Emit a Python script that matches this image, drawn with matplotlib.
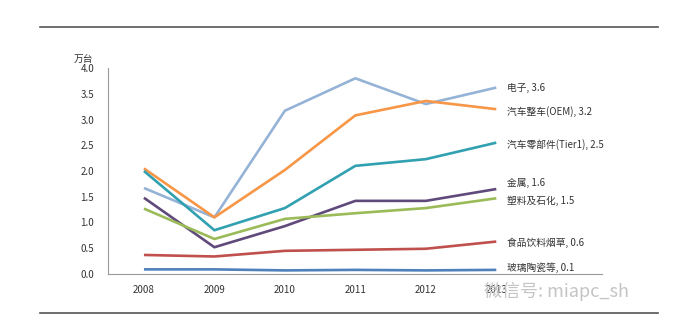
import matplotlib
matplotlib.use("Agg")
import matplotlib.pyplot as plt
from matplotlib.lines import Line2D

plt.rcParams['font.family'] = ['Noto Sans CJK SC', 'DejaVu Sans']

years = [2008, 2009, 2010, 2011, 2012, 2013]
year_labels = ["2008", "2009", "2010", "2011", "2012", "2013"]

names = ["电子", "汽车整车(OEM)", "汽车零部件(Tier1)", "金属", "塑料及石化", "食品饮料烟草", "玻璃陶瓷等"]
end_labels = ["3.6", "3.2", "2.5", "1.6", "1.5", "0.6", "0.1"]

electronics = [1.67, 1.10, 3.17, 3.80, 3.30, 3.62]
auto_oem = [2.05, 1.10, 2.02, 3.08, 3.36, 3.20]
auto_tier1 = [2.00, 0.85, 1.28, 2.10, 2.23, 2.55]
metal = [1.48, 0.52, 0.93, 1.42, 1.42, 1.65]
plastics = [1.27, 0.68, 1.07, 1.18, 1.28, 1.47]
food = [0.37, 0.34, 0.45, 0.47, 0.49, 0.63]
glass = [0.09, 0.09, 0.07, 0.08, 0.07, 0.08]

series = [electronics, auto_oem, auto_tier1, metal, plastics, food, glass]
colors = ["#95B3D7", "#F79646", "#31A0B0", "#604A7B", "#9BBB59", "#C0504D", "#4F81BD"]
# label heights (data units) as placed in the original, nudged apart
label_y = [3.61, 3.15, 2.52, 1.77, 1.42, 0.60, 0.12]

fig = plt.figure(figsize=(6.91, 3.25), dpi=100)
ax = fig.add_axes([108 / 691, 51 / 325, 494 / 691, 206 / 325])

for vals, c in zip(series, colors):
    ax.plot(years, vals, color=c, lw=1.9, solid_capstyle="butt")

for name, lab, ly in zip(names, end_labels, label_y):
    ax.annotate(f"{name}, {lab}", xy=(2013, ly), xytext=(8, 0),
                textcoords="offset points", va="center", ha="left",
                fontsize=7, color="#333333")

ax.set_xlim(2007.49, 2014.5)
ax.set_ylim(0, 4.0)
ax.set_yticks([0, 0.5, 1.0, 1.5, 2.0, 2.5, 3.0, 3.5, 4.0])
ax.set_yticklabels([f"{v:.1f}" for v in ax.get_yticks()])
ax.set_xticks(years)
ax.set_xticklabels(year_labels)
ax.tick_params(axis="both", length=0, labelsize=7, colors="#333333")
ax.tick_params(axis="x", pad=8)
ax.tick_params(axis="y", pad=10)

for s in ["top", "right"]:
    ax.spines[s].set_visible(False)
ax.spines["left"].set_color("#999999")
ax.spines["bottom"].set_color("#999999")
ax.spines["left"].set_linewidth(0.8)
ax.spines["bottom"].set_linewidth(0.8)

ax.text(-0.07, 1.02, "万台", transform=ax.transAxes, fontsize=7,
        color="#333333", ha="left", va="bottom")

# frame lines
fig.add_artist(Line2D([40 / 691, 658 / 691], [1 - 27 / 325, 1 - 27 / 325],
                      color="#555555", lw=1.2))
fig.add_artist(Line2D([40 / 691, 658 / 691], [1 - 313 / 325, 1 - 313 / 325],
                      color="#555555", lw=1.2))

# watermark
fig.text(484 / 691, 1 - 291 / 325, "微信号: miapc_sh", fontsize=13,
         color="#C4C4C4", ha="left", va="center")

fig.savefig("out.png", dpi=100)
